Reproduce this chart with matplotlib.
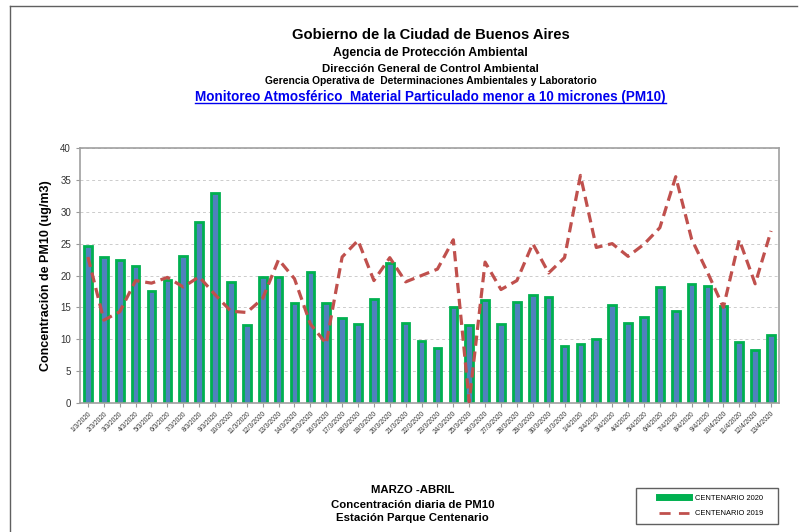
import matplotlib
matplotlib.use("Agg")
import matplotlib.pyplot as plt
from matplotlib.lines import Line2D
from matplotlib.patches import Rectangle
import numpy as np

plt.rcParams['font.family'] = ['Liberation Sans', 'DejaVu Sans']

# dates 1/3/2020 .. 13/4/2020
dates = [f"{d}/3/2020" for d in range(1, 32)] + [f"{d}/4/2020" for d in range(1, 14)]

centenario_2020 = [24.7, 22.9, 22.5, 21.5, 17.5, 19.3, 23.0, 28.4, 32.9, 19.0,
                   12.3, 19.7, 19.7, 15.7, 20.6, 15.7, 13.3, 12.4, 16.3, 22.0,
                   12.6, 9.8, 8.7, 15.1, 12.3, 16.1, 12.4, 15.9, 17.0, 16.6,
                   8.9, 9.2, 10.0, 15.3, 12.5, 13.5, 18.2, 14.5, 18.6, 18.3,
                   15.2, 9.5, 8.3, 10.7]

centenario_2019 = [22.9, 13.0, 14.3, 19.2, 18.8, 19.7, 18.2, 19.8, 17.0, 14.4,
                   14.2, 16.4, 22.5, 19.5, 12.4, 9.3, 22.9, 25.5, 19.2, 22.8,
                   19.0, 20.0, 21.0, 25.6, 0.2, 22.1, 17.8, 19.2, 25.0, 20.4,
                   22.8, 35.7, 24.4, 25.0, 23.0, 24.9, 27.5, 35.5, 25.7, 20.5,
                   15.0, 25.6, 18.7, 27.0]

W, H = 809, 532
fig = plt.figure(figsize=(W / 100, H / 100), dpi=100)
ax = fig.add_axes([80 / W, 1 - 403 / H, 699 / W, 255 / H])

x = np.arange(len(dates))
ax.bar(x, centenario_2020, width=0.48, color='#4F81BD', edgecolor='#00B050',
       linewidth=2, zorder=2)
ax.plot(x, centenario_2019, color='#C0504D', linestyle=(0, (3.2, 1.8)),
        linewidth=2.3, zorder=3)

ax.set_xlim(-0.5, len(dates) - 0.5)
ax.set_ylim(0, 40)
ax.set_yticks(range(0, 41, 5))
ax.set_xticks(x)
ax.set_xticklabels(dates, rotation=45, ha='right', rotation_mode='anchor',
                   fontsize=4.8, color='#333333')
ax.tick_params(axis='y', labelsize=7, length=3, color='#999999', colors='#333333')
ax.tick_params(axis='x', length=3, color='#999999', pad=2)
ax.yaxis.grid(True, linestyle=(0, (3, 3)), color='#cccccc', linewidth=0.7, zorder=0)
for s in ax.spines.values():
    s.set_color('#a0a0a0')
    s.set_linewidth(1.2)

ax.set_ylabel('Concentración de PM10 (ug/m3)', fontsize=9, fontweight='bold',
              labelpad=6)

# header
cx = 430.5 / W
fig.text(cx, 1 - 35 / H, 'Gobierno de la Ciudad de Buenos Aires', ha='center',
         va='center', fontsize=10.6, fontweight='bold')
fig.text(cx, 1 - 53 / H, 'Agencia de Protección Ambiental', ha='center',
         va='center', fontsize=8.8, fontweight='bold')
fig.text(cx, 1 - 69 / H, 'Dirección General de Control Ambiental', ha='center',
         va='center', fontsize=8.2, fontweight='bold')
fig.text(cx, 1 - 81 / H, 'Gerencia Operativa de  Determinaciones Ambientales y Laboratorio',
         ha='center', va='center', fontsize=7.4, fontweight='bold')
t = fig.text(cx, 1 - 97 / H,
             'Monitoreo Atmosférico  Material Particulado menor a 10 micrones (PM10)',
             ha='center', va='center', fontsize=9.75, fontweight='bold', color='#0000EE')

fig.canvas.draw()
bb = t.get_window_extent().transformed(fig.transFigure.inverted())
fig.add_artist(Line2D([bb.x0, bb.x1], [bb.y0 + 0.002, bb.y0 + 0.002],
                      color='#0000EE', linewidth=1, transform=fig.transFigure))

# footer
fx = 412.5 / W
fig.text(fx, 1 - 490 / H, 'MARZO -ABRIL', ha='center', va='center',
         fontsize=8.2, fontweight='bold')
fig.text(fx, 1 - 505 / H, 'Concentración diaria de PM10', ha='center',
         va='center', fontsize=8.2, fontweight='bold')
fig.text(fx, 1 - 518 / H, 'Estación Parque Centenario', ha='center',
         va='center', fontsize=8.2, fontweight='bold')

# outer frame
fig.add_artist(Line2D([10 / W, 10 / W], [0, 1 - 6 / H], color='#606060',
                      linewidth=1, transform=fig.transFigure))
fig.add_artist(Line2D([10 / W, 797 / W], [1 - 6 / H, 1 - 6 / H],
                      color='#606060', linewidth=1, transform=fig.transFigure))

# legend box
fig.add_artist(Rectangle((636 / W, 1 - 524 / H), 142 / W, 36 / H, fill=False,
                         edgecolor='#606060', linewidth=1, transform=fig.transFigure))
handles = [Line2D([0], [0], color='#00B050', linewidth=5),
           Line2D([0], [0], color='#C0504D', linewidth=2, linestyle=(0, (4, 3)))]
leg = fig.legend(handles, ['CENTENARIO 2020', 'CENTENARIO 2019'],
                 loc='center left', bbox_to_anchor=(659 / W, 1 - 506 / H),
                 fontsize=5.4, frameon=False, handlelength=4.0, borderaxespad=0,
                 labelspacing=1.1, borderpad=0, handletextpad=0.8)

fig.savefig('out.png', dpi=100, facecolor='white')
